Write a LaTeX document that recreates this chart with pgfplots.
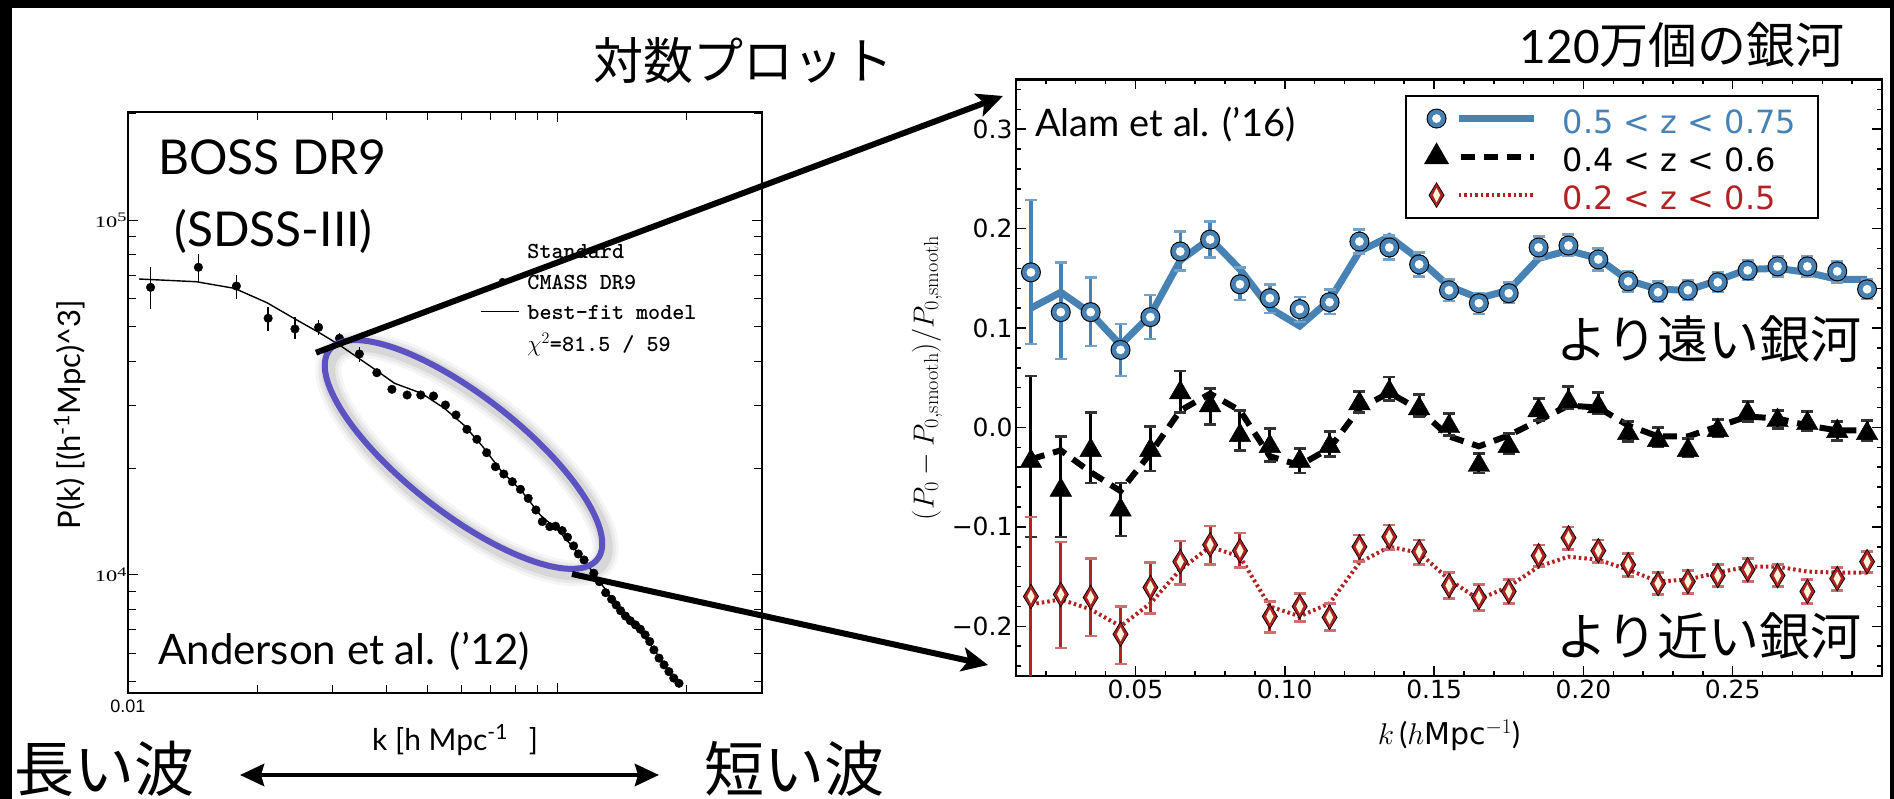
\RequirePackage{fix-cm}
\documentclass[border=0pt]{standalone}
\usepackage[no-math]{fontspec}
\usepackage{graphicx}
\usepackage{pgfplots}
\usepackage{pgfplotstable}
\pgfplotsset{compat=1.18}
\usetikzlibrary{arrows.meta}
\setmainfont{Lato}
\newfontfamily\jp{Noto Sans CJK JP}
\newfontfamily\dvs{DejaVu Sans}
\newfontfamily\lsans{Liberation Sans}
\newfontfamily\lserif{Liberation Serif}
\newcommand\fs[1]{\fontsize{#1}{#1}\selectfont}
\newcommand\tenlab[1]{\lserif\fs{16}\scalebox{1.4}[1]{10\raisebox{0.35em}{\fs{13}#1}}}
% fixed row heights for the legends
\newcommand\lrow{\rule[-0.2em]{0pt}{1.15em}}
\newcommand\srow{\rule[-0.1em]{0pt}{0.85em}}

\definecolor{steel}{RGB}{70,130,180}
\definecolor{fire}{RGB}{178,34,34}
\definecolor{silk}{RGB}{255,248,220}
\definecolor{ringc}{RGB}{92,82,194}

% ringed circle: black rim, steel-blue ring, white core
\pgfdeclareplotmark{bluering}{%
  \pgfscope
  \pgfpathcircle{\pgfpointorigin}{10pt}\pgfsetfillcolor{black}\pgfusepath{fill}%
  \pgfpathcircle{\pgfpointorigin}{8.9pt}\pgfsetfillcolor{steel}\pgfusepath{fill}%
  \pgfpathcircle{\pgfpointorigin}{4.4pt}\pgfsetfillcolor{white}\pgfusepath{fill}%
  \endpgfscope}
% diamond: black rim, red ring, cream core
\pgfdeclareplotmark{redgem}{%
  \pgfscope
  \pgfpathmoveto{\pgfpoint{0pt}{13pt}}\pgfpathlineto{\pgfpoint{8pt}{0pt}}%
  \pgfpathlineto{\pgfpoint{0pt}{-13pt}}\pgfpathlineto{\pgfpoint{-8pt}{0pt}}\pgfpathclose
  \pgfsetfillcolor{black}\pgfusepath{fill}%
  \pgfpathmoveto{\pgfpoint{0pt}{11.4pt}}\pgfpathlineto{\pgfpoint{6.9pt}{0pt}}%
  \pgfpathlineto{\pgfpoint{0pt}{-11.4pt}}\pgfpathlineto{\pgfpoint{-6.9pt}{0pt}}\pgfpathclose
  \pgfsetfillcolor{fire}\pgfusepath{fill}%
  \pgfpathmoveto{\pgfpoint{0pt}{7pt}}\pgfpathlineto{\pgfpoint{3.6pt}{0pt}}%
  \pgfpathlineto{\pgfpoint{0pt}{-7pt}}\pgfpathlineto{\pgfpoint{-3.6pt}{0pt}}\pgfpathclose
  \pgfsetfillcolor{silk}\pgfusepath{fill}%
  \endpgfscope}

% BOSS DR9 CMASS power spectrum
\pgfplotstableread{
k       P      ep    em
0.01129 64620  9270  8570
0.01459 73600  6600  7030
0.01789 65170  4810  5270
0.02121 52870  3900  4080
0.02449 49320  4110  3190
0.0278  49850  2440  2420
0.0311  46430  1500  1500
0.0346  41940  1860  2040
0.0380  37140  1000  1000
0.0412  33350   800   800
0.0447  32140   0 0
0.0481  32140   0 0
0.0515  31930   0 0
0.0549  30120   0 0
0.0581  28230   0 0
0.0616  25720   0 0
0.0650  24110   0 0
0.0685  22100   0 0
0.0718  20180   0 0
0.0751  19250   0 0
0.0786  18310   0 0
0.0821  17430   0 0
0.0856  16440   0 0
0.0892  15240   0 0
0.0923  14130   0 0
0.0961  13680   0 0
0.0991  13720   0 0
0.1027  13330   0 0
0.1057  12770   0 0
0.1092  12070   0 0
0.1120  11460   0 0
0.1155  11020   0 0
0.1217  10110   0 0
0.1254   9570   0 0
0.1297   8910   0 0
0.1339   8540   0 0
0.1372   8230   0 0
0.1405   7930   0 0
0.1442   7660   0 0
0.1480   7430   0 0
0.1522   7230   0 0
0.1562   7030   0 0
0.1603   6780   0 0
0.1643   6490   0 0
0.1680   6150   0 0
0.1727   5830   0 0
0.1774   5580   0 0
0.1821   5340   0 0
0.1869   5120   0 0
0.1922   4950   0 0
}\cmassdata

\pgfplotstableread{
k       P
0.01061 68210
0.01443 67020
0.01771 64200
0.02108 58480
0.02457 52520
0.0278  48280
0.0311  44450
0.0345  40770
0.0378  37780
0.0418  34670
0.0483  32490
0.0546  29480
0.0606  26450
0.0671  22980
0.0743  19540
0.0823  17350
0.0913  14760
0.1011  13250
0.1120  11510
0.1241   9790
0.1372   8230
0.1516   7230
0.1675   6210
0.1900   4950
}\cmassmodel

% BAO wiggles: k, measured ratio, errors (+/-), model
\pgfplotstableread{
k     y      ep     em     m
0.015 0.156  0.073  0.072  0.120
0.025 0.116  0.050  0.047  0.136
0.035 0.116  0.035  0.034  0.115
0.045 0.078  0.026  0.026  0.083
0.055 0.111  0.022  0.022  0.113
0.065 0.177  0.020  0.019  0.168
0.075 0.189  0.018  0.018  0.190
0.085 0.144  0.017  0.016  0.159
0.095 0.130  0.014  0.015  0.120
0.105 0.119  0.012  0.013  0.102
0.115 0.126  0.013  0.012  0.128
0.125 0.187  0.012  0.012  0.177
0.135 0.181  0.012  0.012  0.192
0.145 0.164  0.012  0.012  0.169
0.155 0.138  0.011  0.011  0.142
0.165 0.125  0.010  0.011  0.130
0.175 0.135  0.011  0.010  0.138
0.185 0.181  0.011  0.011  0.170
0.195 0.183  0.011  0.010  0.178
0.205 0.169  0.011  0.011  0.170
0.215 0.147  0.010  0.010  0.148
0.225 0.136  0.011  0.010  0.139
0.235 0.138  0.010  0.010  0.138
0.245 0.146  0.010  0.010  0.148
0.255 0.158  0.010  0.009  0.159
0.265 0.162  0.010  0.010  0.160
0.275 0.162  0.010  0.010  0.156
0.285 0.157  0.010  0.011  0.149
0.295 0.139  0.010  0.010  0.149
}\highz

\pgfplotstableread{
k     y       ep     em     m
0.015 -0.034  0.086  0.076  -0.032
0.025 -0.063  0.054  0.047  -0.023
0.035 -0.023  0.038  0.033  -0.045
0.045 -0.083  0.027  0.026  -0.064
0.055 -0.023  0.024  0.021  -0.026
0.065  0.035  0.022  0.020   0.017
0.075  0.022  0.017  0.019   0.034
0.085 -0.008  0.025  0.015   0.017
0.095 -0.019  0.018  0.015  -0.029
0.105 -0.034  0.013  0.012  -0.038
0.115 -0.019  0.015  0.010  -0.021
0.125  0.024  0.012  0.009   0.019
0.135  0.036  0.015  0.009   0.035
0.145  0.019  0.014  0.008   0.018
0.155  0.001  0.013  0.009  -0.009
0.165 -0.038  0.012  0.008  -0.019
0.175 -0.019  0.013  0.007  -0.008
0.185  0.017  0.012  0.010   0.007
0.195  0.026  0.015  0.007   0.022
0.205  0.021  0.014  0.007   0.020
0.215 -0.006  0.012  0.008   0.002
0.225 -0.013  0.013  0.006  -0.009
0.235 -0.023  0.012  0.006  -0.009
0.245 -0.003  0.011  0.006   0.001
0.255  0.014  0.012  0.008   0.011
0.265  0.007  0.010  0.008   0.009
0.275  0.004  0.012  0.007   0.002
0.285 -0.004  0.010  0.009  -0.003
0.295 -0.006  0.013  0.007  -0.003
}\midz

\pgfplotstableread{
k     y       ep     em     m
0.015 -0.170  0.080  0.090  -0.178
0.025 -0.168  0.053  0.054  -0.173
0.035 -0.171  0.039  0.039  -0.183
0.045 -0.208  0.028  0.030  -0.200
0.055 -0.161  0.025  0.026  -0.177
0.065 -0.135  0.021  0.023  -0.143
0.075 -0.118  0.019  0.020  -0.120
0.085 -0.124  0.018  0.017  -0.130
0.095 -0.190  0.015  0.016  -0.180
0.105 -0.180  0.013  0.015  -0.190
0.115 -0.191  0.014  0.013  -0.177
0.125 -0.120  0.012  0.015  -0.136
0.135 -0.110  0.012  0.013  -0.120
0.145 -0.125  0.012  0.013  -0.126
0.155 -0.159  0.013  0.013  -0.153
0.165 -0.171  0.013  0.013  -0.173
0.175 -0.165  0.012  0.012  -0.160
0.185 -0.129  0.011  0.011  -0.140
0.195 -0.111  0.011  0.012  -0.130
0.205 -0.124  0.011  0.012  -0.133
0.215 -0.138  0.011  0.012  -0.143
0.225 -0.157  0.011  0.011  -0.155
0.235 -0.155  0.011  0.012  -0.153
0.245 -0.149  0.011  0.011  -0.146
0.255 -0.143  0.011  0.012  -0.140
0.265 -0.149  0.011  0.011  -0.140
0.275 -0.165  0.012  0.012  -0.145
0.285 -0.152  0.011  0.012  -0.146
0.295 -0.135  0.010  0.011  -0.146
}\lowz

\begin{document}
\begin{tikzpicture}
\useasboundingbox (0,0) rectangle (1894pt,799pt);
\fill[white] (0,0) rectangle (1894pt,799pt);

% ---------- left: P(k) on log-log axes ----------
\begin{axis}[
  at={(128pt,105.7pt)}, anchor=south west,
  scale only axis, width=634pt, height=581.6pt,
  xmode=log, ymode=log,
  xmin=0.01, xmax=0.3, ymin=4640, ymax=202000,
  xtick={0.01,0.1}, xticklabels={{\lsans\fs{18}0.01},{}},
  minor xtick={0.02,0.03,0.04,0.05,0.06,0.07,0.08,0.09,0.2,0.3},
  ytick={1e4,1e5}, yticklabels={\tenlab{4},\tenlab{5}},
  minor ytick={5000,6000,7000,8000,9000,20000,30000,40000,50000,60000,70000,80000,90000,200000},
  tick align=inside, major tick length=10pt, minor tick length=8pt,
  tick style={black, line width=1pt},
  axis line style={line width=2pt},
  xticklabel style={yshift=-3pt},
  yticklabel style={xshift=2pt},
  xlabel={k [h Mpc\textsuperscript{-1}\hspace{0.7em}]},
  ylabel={P(k) [(h\textsuperscript{-1}Mpc)\textasciicircum 3]},
  xlabel style={font=\fs{30}, at={(axis description cs:0.516,-0.080)}, anchor=center},
  ylabel style={font=\fs{31}, at={(axis description cs:-0.0915,0.479)}, anchor=center},
  legend cell align=left,
  legend style={at={(axis description cs:0.5552,0.7803)}, anchor=north west,
    draw=none, fill=none, inner sep=0pt, row sep=7.6pt,
    font=\ttfamily\bfseries\fs{23},
    /tikz/every odd column/.append style={column sep=6pt}},
]
\addlegendimage{legend image code/.code={\path[draw=none, fill=none] (0pt,0pt) -- (38pt,0pt);}}
\addlegendentry{\srow Standard}
\addlegendimage{legend image code/.code={\path[draw=none, fill=none] (0pt,0pt) -- (38pt,0pt); \fill[black] (21.5pt,0pt) circle (3.2pt);}}
\addlegendentry{\srow CMASS DR9}
\addlegendimage{legend image code/.code={\draw[black, line width=1.3pt] (0pt,0pt) -- (38pt,0pt);}}
\addlegendentry{\srow best-fit model}
\addlegendimage{legend image code/.code={\path[draw=none, fill=none] (0pt,0pt) -- (38pt,0pt);}}
\addlegendentry{\srow $\chi^{2}$=81.5 / 59}

\addplot[black, line width=1.4pt, forget plot] table[x=k, y=P] {\cmassmodel};
\addplot[only marks, mark=*, mark size=4.3pt, black, forget plot,
  error bars/.cd, y dir=both, y explicit, error mark=none,
  error bar style={black, line width=1.6pt}]
  table[x=k, y=P, y error plus=ep, y error minus=em] {\cmassdata};
\end{axis}

% ---------- right: BAO wiggles ----------
\begin{axis}[
  at={(1016pt,123pt)}, anchor=south west,
  scale only axis, width=866pt, height=596.5pt,
  xmin=0.01, xmax=0.30, ymin=-0.25, ymax=0.35,
  xtick={0.05,0.1,0.15,0.2,0.25}, xticklabels={0.05,0.10,0.15,0.20,0.25},
  minor xtick={0.02,0.03,0.04,0.06,0.07,0.08,0.09,0.11,0.12,0.13,0.14,0.16,0.17,0.18,0.19,0.21,0.22,0.23,0.24,0.26,0.27,0.28,0.29},
  ytick={-0.2,-0.1,0,0.1,0.2,0.3}, yticklabels={−0.2,−0.1,0.0,0.1,0.2,0.3},
  minor ytick={-0.24,-0.22,-0.18,-0.16,-0.14,-0.12,-0.08,-0.06,-0.04,-0.02,0.02,0.04,0.06,0.08,0.12,0.14,0.16,0.18,0.22,0.24,0.26,0.28,0.32,0.34},
  tick align=inside, major tick length=10pt, minor tick length=5pt,
  tick style={black, line width=1.5pt},
  axis line style={line width=2.5pt},
  ticklabel style={font=\dvs\fs{25}},
  xlabel={$k\,$($h${\dvs Mpc}$^{-1}$)},
  ylabel={$(P_0-P_{0,\mathrm{smooth}})/P_{0,\mathrm{smooth}}$},
  xlabel style={font=\fs{30}, at={(axis description cs:0.5,-0.099)}, anchor=center},
  ylabel style={font=\fs{29}, at={(axis description cs:-0.1028,0.5)}, anchor=center},
  legend cell align=left,
  legend style={at={(axis description cs:0.4492,0.974)}, anchor=north west,
    draw=black, line width=2pt, fill=white,
    inner xsep=19.7pt, inner ysep=4.6pt, row sep=2.4pt,
    font=\dvs\fs{32},
    /tikz/every odd column/.append style={column sep=23.9pt}},
]
\addlegendimage{legend image code/.code={%
  \path[draw=none, fill=none] (-32pt,0pt) -- (75pt,0pt);
  \draw[steel, line width=7pt] (0pt,0pt) -- (75pt,0pt);
  \begin{scope}[shift={(-22pt,0pt)}]\pgfuseplotmark{bluering}\end{scope}}}
\addlegendentry{\lrow\textcolor{steel}{0.5 < z < 0.75}}
\addlegendimage{legend image code/.code={%
  \path[draw=none, fill=none] (-32pt,0pt) -- (75pt,0pt);
  \draw[black, line width=6pt, dash pattern=on 14pt off 9pt] (2pt,0pt) -- (75pt,0pt);
  \begin{scope}[shift={(-22pt,0pt)}]\pgfsetfillcolor{black}\pgfsetplotmarksize{12.5pt}\pgfuseplotmark{triangle*}\end{scope}}}
\addlegendentry{\lrow 0.4 < z < 0.6}
\addlegendimage{legend image code/.code={%
  \path[draw=none, fill=none] (-32pt,0pt) -- (75pt,0pt);
  \draw[fire, line width=4pt, dash pattern=on 2.5pt off 3pt] (0pt,0pt) -- (75pt,0pt);
  \begin{scope}[shift={(-22pt,0pt)}]\pgfuseplotmark{redgem}\end{scope}}}
\addlegendentry{\lrow\textcolor{fire}{0.2 < z < 0.5}}

% model curves
\addplot[steel, line width=7pt, forget plot] table[x=k, y=m] {\highz};
\addplot[black, line width=6pt, dash pattern=on 14pt off 9pt, forget plot] table[x=k, y=m] {\midz};
\addplot[fire, line width=4pt, dash pattern=on 2.5pt off 3pt, forget plot] table[x=k, y=m] {\lowz};

% measurements
\addplot[only marks, mark=bluering, forget plot,
  error bars/.cd, y dir=both, y explicit,
  error bar style={steel, line width=3.5pt},
  error mark options={rotate=90, steel!75, line width=2.5pt, mark size=6pt}]
  table[x=k, y=y, y error plus=ep, y error minus=em] {\highz};
\addplot[only marks, mark=triangle*, mark size=12.5pt, black, forget plot,
  error bars/.cd, y dir=both, y explicit,
  error bar style={black, line width=3pt},
  error mark options={rotate=90, black!80, line width=2.5pt, mark size=6pt}]
  table[x=k, y=y, y error plus=ep, y error minus=em] {\midz};
\addplot[only marks, mark=redgem, forget plot,
  error bars/.cd, y dir=both, y explicit,
  error bar style={fire, line width=3pt},
  error mark options={rotate=90, fire!65, line width=2.5pt, mark size=6pt}]
  table[x=k, y=y, y error plus=ep, y error minus=em] {\lowz};
\end{axis}

% ---------- slide annotations (x right, y down, in pt) ----------
\begin{scope}[x=1pt, y=-1pt, yshift=799pt]
  % frame
  \fill[black] (0,0) rectangle (12,799);
  \fill[black] (0,0) rectangle (1894,8);
  \fill[black] (1890,0) rectangle (1894,799);

  % titles
  \node[anchor=base, inner sep=0pt, font=\jp\fs{50}] at (743,80) {対数プロット};
  \node[anchor=base east, inner sep=0pt] at (1845,63.5) {{\fs{46}120}{\jp\fs{49}万個の銀河}};
  \node[anchor=base west, inner sep=0pt, font=\jp\fs{60}] at (14,792) {長い波};
  \node[anchor=base west, inner sep=0pt, font=\jp\fs{60}] at (704,792) {短い波};

  % labels in the panels
  \node[anchor=base west, inner sep=0pt, font=\fs{48}] at (158,175) {BOSS DR9};
  \node[anchor=base west, inner sep=0pt, font=\fs{48}] at (174,247) {(SDSS-III)};
  \node[anchor=base west, inner sep=0pt, font=\fs{42}] at (158,665) {Anderson et al. (’12)};
  \node[anchor=base west, inner sep=0pt, font=\fs{38}] at (1035,136.7) {Alam et al. (’16)};
  \node[anchor=base west, inner sep=0pt, font=\jp\fs{51}] at (1556,359) {より遠い銀河};
  \node[anchor=base west, inner sep=0pt, font=\jp\fs{51}] at (1556,656) {より近い銀河};

  % highlighted range with a soft shadow
  \foreach \w/\o in {26/0.04,20/0.05,14/0.07}
    \draw[black, opacity=\o, line width=\w pt, shift={(467,459)}, rotate=-38]
      (0,0) ellipse [x radius=170, y radius=58.5];
  \draw[ringc, line width=6pt, shift={(463.5,454.5)}, rotate=-38]
    (0,0) ellipse [x radius=170, y radius=58.5];

  % zoom arrows
  \draw[line width=6pt, -{Stealth[length=26pt, width=24pt, inset=6pt]}] (316,352.7) -- (1003,96);
  \draw[line width=6pt, -{Stealth[length=26pt, width=24pt, inset=6pt]}] (572,574) -- (988,665);
  \draw[line width=4.5pt, {Stealth[length=24pt, width=22pt, inset=3pt]}-{Stealth[length=24pt, width=22pt, inset=3pt]}] (240,775) -- (659,775);
\end{scope}
\end{tikzpicture}
\end{document}
